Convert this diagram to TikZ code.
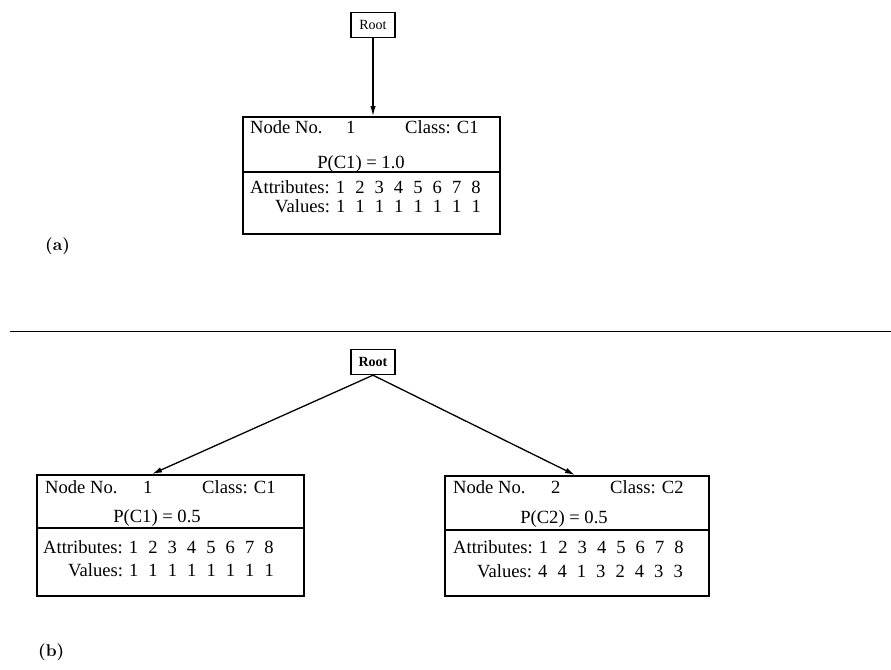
\documentclass[tikz,border=0pt]{standalone}
\usepackage{fontspec}
\newfontfamily\tnr{Liberation Serif}
\newfontfamily\lbf{lmroman10-bold.otf}
\usetikzlibrary{arrows.meta}
% gap between the attribute / value digits
\newcommand\dsp{\hspace{0.54em}}
\tikzset{
  txt/.style={inner sep=0pt, anchor=base west, font=\tnr\fontsize{18.6}{22}\selectfont},
  ctxt/.style={txt, anchor=base},
  rec/.style={draw, line width=1.6pt, anchor=north west, inner sep=0pt},
  rootbox/.style={draw, line width=1.4pt, minimum width=44pt, minimum height=25pt,
                  inner sep=0pt, font=\tnr\fontsize{14}{16}\selectfont},
  arr/.style={line width=1.3pt, -{Latex[length=10pt,width=5.5pt]}},
  sepline/.style={line width=1.3pt},
  rule/.style={line width=1pt},
  lbl/.style={inner sep=0pt, anchor=base west, font=\lbf\fontsize{17}{20}\selectfont},
}
\begin{document}
\begin{tikzpicture}[x=1pt,y=-1pt]
\useasboundingbox (0,0) rectangle (891,669);

% ---------------- part (a) ----------------
\node[rootbox] (rootA) at (373,25) {Root};
\node[rec, minimum width=257pt, minimum height=117pt] (boxA) at (242,116) {};
\coordinate (inA) at (373,116);
\draw[arr] (rootA.south) -- (inA);
\coordinate (sAl) at (242,172);
\coordinate (sAr) at (499,172);
\draw[sepline] (sAl) -- (sAr);
\node[txt] (nA) at (250,133) {Node No.};
\node[txt] (nAn) at (346,133) {1};
\node[txt] (cA) at (405,133) {Class: C1};
\node[ctxt] (pA) at (361,168) {P(C1) = 1.0};
\node[txt] (aA) at (250,193) {Attributes: 1\dsp2\dsp3\dsp4\dsp5\dsp6\dsp7\dsp8};
\node[txt] (vA) at (275,212) {Values: 1\dsp1\dsp1\dsp1\dsp1\dsp1\dsp1\dsp1};
\node[lbl] (labA) at (45,250) {(a)};

% divider between the two parts
\coordinate (ruleL) at (10,331);
\coordinate (ruleR) at (891,331);
\draw[rule] (ruleL) -- (ruleR);

% ---------------- part (b) ----------------
\node[rootbox, font=\tnr\bfseries\fontsize{14}{16}\selectfont] (rootB) at (373,362) {Root};

\node[rec, minimum width=267pt, minimum height=121pt] (boxL) at (36,474) {};
\coordinate (inL) at (152,474);
\draw[arr] (rootB.south) -- (inL);
\coordinate (sLl) at (36,528);
\coordinate (sLr) at (303,528);
\draw[sepline] (sLl) -- (sLr);
\node[txt] (nL) at (45,493) {Node No.};
\node[txt] (nLn) at (143,493) {1};
\node[txt] (cL) at (202,493) {Class: C1};
\node[ctxt] (pL) at (157,522) {P(C1) = 0.5};
\node[txt] (aL) at (43,553) {Attributes: 1\dsp2\dsp3\dsp4\dsp5\dsp6\dsp7\dsp8};
\node[txt] (vL) at (68,576) {Values: 1\dsp1\dsp1\dsp1\dsp1\dsp1\dsp1\dsp1};

\node[rec, minimum width=264pt, minimum height=120pt] (boxR) at (444,475) {};
\coordinate (inR) at (575,475);
\draw[arr] (rootB.south) -- (inR);
\coordinate (sRl) at (444,530);
\coordinate (sRr) at (708,530);
\draw[sepline] (sRl) -- (sRr);
\node[txt] (nR) at (453,493) {Node No.};
\node[txt] (nRn) at (551,493) {2};
\node[txt] (cR) at (610,493) {Class: C2};
\node[ctxt] (pR) at (564,523) {P(C2) = 0.5};
\node[txt] (aR) at (453,553) {Attributes: 1\dsp2\dsp3\dsp4\dsp5\dsp6\dsp7\dsp8};
\node[txt] (vR) at (477,577) {Values: 4\dsp4\dsp1\dsp3\dsp2\dsp4\dsp3\dsp3};

\node[lbl] (labB) at (38,656) {(b)};
\end{tikzpicture}
\end{document}
